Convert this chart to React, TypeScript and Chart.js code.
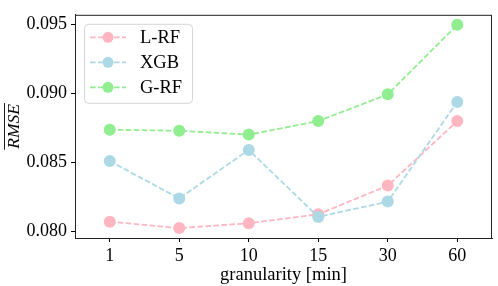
import React, { useEffect, useRef } from "react";
import { Chart, registerables } from "chart.js";

Chart.register(...registerables);

const categories = ["1", "5", "10", "15", "30", "60"];
const seriesNames = ["L-RF", "XGB", "G-RF"];
const lrfValues = [0.08069, 0.08023, 0.08058, 0.08123, 0.08331, 0.08799];
const xgbValues = [0.08509, 0.08238, 0.0859, 0.08104, 0.08215, 0.08938];
const grfValues = [0.08736, 0.08729, 0.08701, 0.08799, 0.08993, 0.09497];
const yTicks = [0.08, 0.085, 0.09, 0.095];
const seriesColors = ["#FFB6C1", "#ADD8E6", "#90EE90"];

const FONT = "'Liberation Serif', 'DejaVu Serif', serif";
const DASH = [5.6, 2.4];

const framePlugin = {
  id: "frameAndLegend",
  afterDraw(chart: any) {
    const ctx = chart.ctx;
    const a = chart.chartArea;
    ctx.save();
    // frame
    ctx.strokeStyle = "#222";
    ctx.lineWidth = 1;
    ctx.strokeRect(a.left + 0.5, a.top + 0.5, a.right - a.left - 1, a.bottom - a.top);

    // overline on y title
    const ys = chart.scales.y;
    const title = ys.options.title;
    ctx.font = `italic ${title.font.size}px ${FONT}`;
    const w = ctx.measureText(title.text).width;
    const cy = (a.top + a.bottom) / 2;
    ctx.beginPath();
    ctx.lineWidth = 0.9;
    ctx.strokeStyle = "#000";
    ctx.moveTo(4.5, cy - w / 2 - 1);
    ctx.lineTo(4.5, cy + w / 2 + 1);
    ctx.stroke();

    // legend
    const lx = a.left + 9;
    const ly = a.top + 9;
    const lw = 108;
    const lh = 79;
    ctx.beginPath();
    ctx.roundRect(lx + 0.5, ly + 0.5, lw, lh, 4);
    ctx.fillStyle = "rgba(255,255,255,0.8)";
    ctx.fill();
    ctx.strokeStyle = "#d5d5d5";
    ctx.lineWidth = 1;
    ctx.stroke();
    chart.data.datasets.forEach((ds: any, i: number) => {
      const ry = ly + 13.5 + i * 25;
      ctx.beginPath();
      ctx.setLineDash(DASH);
      ctx.strokeStyle = ds.borderColor;
      ctx.lineWidth = 1.8;
      ctx.moveTo(lx + 6, ry);
      ctx.lineTo(lx + 42, ry);
      ctx.stroke();
      ctx.setLineDash([]);
      ctx.beginPath();
      ctx.fillStyle = ds.backgroundColor;
      ctx.arc(lx + 24, ry, 5.5, 0, Math.PI * 2);
      ctx.fill();
      ctx.fillStyle = "#000";
      ctx.font = `18.5px ${FONT}`;
      ctx.textBaseline = "middle";
      ctx.textAlign = "left";
      ctx.fillText(ds.label, lx + 56, ry + 1);
    });
    ctx.restore();
  },
};

export default function App() {
  const ref = useRef<HTMLCanvasElement>(null);
  useEffect(() => {
    document.body.style.margin = "0";
    const values = [lrfValues, xgbValues, grfValues];
    const chart = new Chart(ref.current!, {
      type: "line",
      data: {
        labels: categories,
        datasets: seriesNames.map((name, i) => ({
          label: name,
          data: values[i],
          borderColor: seriesColors[i],
          backgroundColor: seriesColors[i],
          pointBackgroundColor: seriesColors[i],
          pointBorderWidth: 0,
          pointRadius: 6,
          borderWidth: 1.8,
          borderDash: DASH,
          fill: false,
          tension: 0,
          order: 3 - i,
        })),
      },
      options: {
        animation: false,
        responsive: false,
        layout: { padding: { top: 5, right: 2, left: 0, bottom: 0 } },
        plugins: { legend: { display: false }, tooltip: { enabled: false } },
        scales: {
          x: {
            type: "category",
            offset: true,
            afterFit: (s: any) => {
              s.height = 48;
            },
            grid: { drawOnChartArea: false, drawTicks: true, tickLength: 4, color: "#000" },
            border: { display: true, color: "#222", width: 1 },
            ticks: { color: "#000", font: { family: FONT, size: 18 }, padding: 3 },
            title: {
              display: true,
              text: "granularity [min]",
              color: "#000",
              font: { family: FONT, size: 18.5 },
              padding: { top: 3, bottom: 0 },
            },
          },
          y: {
            type: "linear",
            min: 0.07951,
            max: 0.0957,
            afterFit: (s: any) => {
              s.width = 75;
            },
            afterBuildTicks: (s: any) => {
              s.ticks = yTicks.map((v) => ({ value: v }));
            },
            grid: { drawOnChartArea: false, drawTicks: true, tickLength: 4, color: "#000" },
            border: { display: true, color: "#222", width: 1 },
            ticks: {
              color: "#000",
              font: { family: FONT, size: 18 },
              padding: 4,
              callback: (v: any) => Number(v).toFixed(3),
            },
            title: {
              display: true,
              text: "RMSE",
              color: "#000",
              font: { family: FONT, size: 17.5, style: "italic" },
              padding: { top: 4, bottom: 0 },
            },
          },
        },
      },
      plugins: [framePlugin],
    });
    return () => chart.destroy();
  }, []);
  return (
    <div style={{ position: "absolute", left: 0, top: 0, width: 498, height: 286 }}>
      <canvas ref={ref} width={498} height={286} style={{ width: 498, height: 286 }} />
    </div>
  );
}
